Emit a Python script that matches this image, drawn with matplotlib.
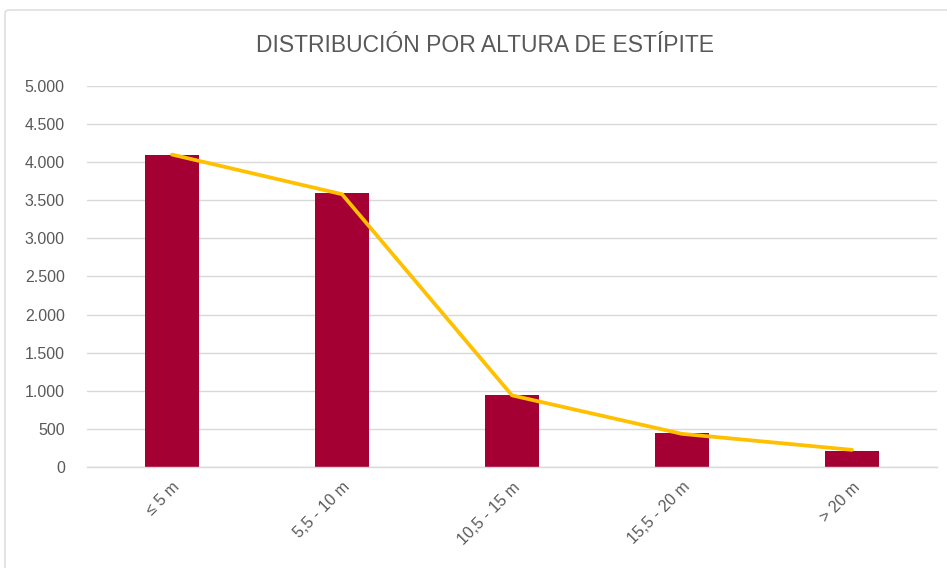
import matplotlib
matplotlib.use('Agg')
import matplotlib.pyplot as plt
from matplotlib.patches import FancyBboxPatch
from matplotlib.ticker import FuncFormatter, MultipleLocator

categories = ['≤ 5 m', '5,5 - 10 m', '10,5 - 15 m', '15,5 - 20 m', '> 20 m']
bar_values = [4090, 3590, 945, 446, 210]
line_values = [4100, 3580, 940, 435, 225]

TEXT = '#595959'
GRID = '#D9D9D9'
BAR = '#A50034'
LINE = '#FFC000'

plt.rcParams['font.family'] = ['Liberation Sans Narrow', 'Liberation Sans', 'DejaVu Sans']

fig = plt.figure(figsize=(9.47, 5.68), dpi=100)
fig.patch.set_facecolor('white')

# chart border
border = FancyBboxPatch((5 / 947, -0.05), 1.2, 1 - 10 / 568 + 0.05,
                        boxstyle='round,pad=0,rounding_size=0.005',
                        transform=fig.transFigure, facecolor='none',
                        edgecolor='#D9D9D9', linewidth=1.0, zorder=-1)
fig.patches.append(border)

ax = fig.add_axes([87 / 947, 101 / 568, 850 / 947, 381 / 568])
ax.set_facecolor('none')

x = list(range(len(categories)))
ax.bar(x, bar_values, width=0.32, color=BAR, zorder=2)
ax.plot(x, line_values, color=LINE, linewidth=2.7, zorder=3,
        solid_capstyle='round', solid_joinstyle='round')

ax.set_xlim(-0.5, len(categories) - 0.5)
ax.set_ylim(0, 5000)
ax.yaxis.set_major_locator(MultipleLocator(500))
ax.yaxis.set_major_formatter(FuncFormatter(lambda v, _: f'{int(v):,}'.replace(',', '.')))
ax.grid(True, axis='y', color=GRID, linewidth=1.0, zorder=0)
ax.set_axisbelow(True)

for s in ['top', 'right', 'left']:
    ax.spines[s].set_visible(False)
ax.spines['bottom'].set_color(GRID)
ax.spines['bottom'].set_linewidth(1.0)

ax.tick_params(axis='both', length=0, colors=TEXT, labelsize=11.5)
ax.tick_params(axis='y', pad=16)
ax.set_xticks(x)
ax.set_xticklabels(categories, rotation=45, ha='right', rotation_mode='anchor')
ax.tick_params(axis='x', pad=9)

fig.text(485 / 947, 1 - 46 / 568, 'DISTRIBUCIÓN POR ALTURA DE ESTÍPITE', ha='center',
         va='center', color=TEXT, fontsize=16.5)

fig.savefig('out.png', dpi=100, facecolor=fig.get_facecolor())
plt.close(fig)
